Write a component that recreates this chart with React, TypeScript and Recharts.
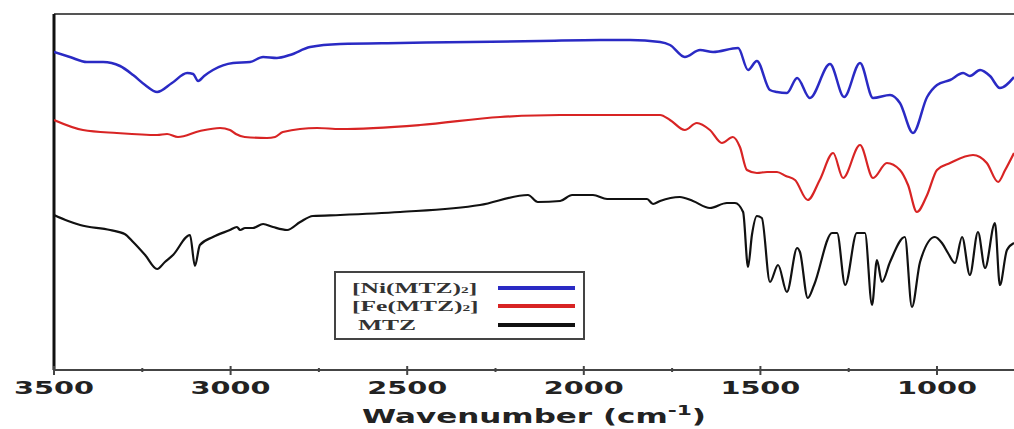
import React from 'react';
import { Legend, Line, LineChart, ReferenceLine, XAxis, YAxis } from 'recharts';

// x ticks (cm-1), minor ones every 250
const majorTicks = [3500, 3000, 2500, 2000, 1500, 1000];
const allTicks = [3500, 3250, 3000, 2750, 2500, 2250, 2000, 1750, 1500, 1250, 1000];
const legendOrder = ['[Ni(MTZ)₂]', '[Fe(MTZ)₂]', 'MTZ'];

// [Ni(MTZ)2] - wavenumber / transmittance (a.u.)
const niWn = [3500, 3455, 3407, 3361, 3313, 3276, 3242, 3208, 3166, 3123, 3106, 3092, 3075, 3050, 2993, 2945, 2908, 2869, 2832, 2775, 2690, 2520, 2322, 2124, 1954, 1869, 1784, 1756, 1714, 1671, 1634, 1563, 1535, 1510, 1473, 1453, 1425, 1396, 1360, 1303, 1263, 1218, 1181, 1133, 1105, 1068, 1028, 1000, 963, 926, 907, 878, 850, 822, 782];
const niT = [318, 313, 308, 308, 304, 295, 285, 278, 287, 297, 296, 289, 294, 300, 307, 308, 313, 312, 315, 323, 326, 327, 328, 329, 330, 330, 328, 325, 313, 320, 318, 322, 300, 309, 280, 278, 277, 292, 272, 306, 273, 307, 272, 275, 267, 237, 273, 285, 290, 297, 294, 300, 294, 282, 293];

// [Fe(MTZ)2]
const feWn = [3500, 3418, 3322, 3208, 3180, 3149, 3087, 3030, 3002, 2985, 2960, 2897, 2874, 2852, 2755, 2690, 2464, 2237, 2067, 1954, 1784, 1756, 1714, 1680, 1643, 1609, 1578, 1558, 1538, 1510, 1481, 1453, 1428, 1402, 1366, 1332, 1294, 1266, 1218, 1181, 1142, 1105, 1082, 1057, 1028, 1000, 963, 898, 859, 827, 807, 782];
const feT = [250, 240, 237, 235, 236, 233, 239, 242, 240, 236, 233, 232, 233, 238, 242, 241, 245, 253, 255, 255, 255, 250, 240, 247, 240, 227, 233, 223, 200, 197, 198, 198, 194, 190, 170, 190, 217, 192, 225, 192, 207, 200, 185, 158, 175, 200, 207, 215, 207, 188, 200, 217];

// MTZ
const mtzWn = [3500, 3460, 3426, 3341, 3300, 3276, 3242, 3208, 3186, 3163, 3115, 3101, 3087, 3050, 3002, 2982, 2973, 2959, 2937, 2908, 2880, 2840, 2803, 2767, 2690, 2520, 2294, 2158, 2130, 2067, 2033, 1974, 1934, 1821, 1804, 1784, 1728, 1691, 1643, 1595, 1572, 1549, 1535, 1524, 1510, 1496, 1473, 1450, 1425, 1396, 1388, 1366, 1348, 1297, 1283, 1260, 1227, 1204, 1184, 1170, 1156, 1133, 1091, 1071, 1048, 1006, 986, 969, 949, 929, 907, 884, 864, 836, 822, 802, 782];
const mtzT = [155, 149, 145, 140, 136, 128, 115, 101, 108, 115, 135, 104, 125, 133, 140, 143, 140, 142, 142, 146, 143, 140, 148, 154, 155, 158, 165, 175, 168, 169, 175, 175, 171, 171, 166, 169, 173, 169, 162, 167, 167, 158, 103, 135, 154, 152, 88, 105, 78, 122, 118, 72, 85, 137, 137, 85, 137, 137, 65, 110, 88, 108, 133, 63, 108, 133, 127, 117, 107, 133, 95, 138, 102, 147, 85, 120, 127];

const zip = (wn: number[], t: number[]) => wn.map((w, i) => ({ wn: w, t: t[i] }));

const WnTick = ({ x, y, payload }: any) => {
  const major = majorTicks.includes(payload.value);
  return (
    <g>
      <line x1={x} x2={x} y1={y - (major ? 4 : 2)} y2={y + (major ? 5 : 2)} stroke="#444" strokeWidth={2} />
      {major && (
        <text x={x} y={y + 24} textAnchor="middle" fontFamily="DejaVu Sans" fontWeight="bold"
          fontSize={18} fill="#222" textLength={80} lengthAdjust="spacingAndGlyphs">
          {payload.value}
        </text>
      )}
    </g>
  );
};

const AxisTitle = ({ viewBox }: any) => {
  const cx = viewBox.x + viewBox.width / 2;
  return (
    <text transform={`translate(${cx} ${viewBox.y + 53}) scale(1.55 1)`} textAnchor="middle"
      fontFamily="DejaVu Sans" fontWeight="bold" fontSize={20} fill="#222">
      Wavenumber (cm
      <tspan dy={-8} fontSize={14}>-1</tspan>
      <tspan dy={8}>)</tspan>
    </text>
  );
};

const rowCenters = [15, 33, 52];

const LegendBox = ({ payload }: any) => {
  const items = [...(payload || [])].sort(
    (a: any, b: any) => legendOrder.indexOf(a.value) - legendOrder.indexOf(b.value),
  );
  return (
    <div style={{
      position: 'relative', width: 251, height: 69, boxSizing: 'border-box', border: '2px solid #444',
      background: '#fff', fontFamily: '"Liberation Serif", serif', fontWeight: 'bold', fontSize: 15, color: '#333',
    }}>
      {items.map((entry: any, i: number) => {
        const [main, rest] = String(entry.value).split('₂');
        return (
          <React.Fragment key={entry.value}>
            <span style={{
              position: 'absolute', left: main.startsWith('[') ? 16 : 22, top: rowCenters[i] - 9, lineHeight: '18px',
              whiteSpace: 'nowrap', transform: 'scaleX(1.7)', transformOrigin: 'left center',
            }}>
              {main}
              {rest !== undefined && <span style={{ fontSize: 9, verticalAlign: 'middle' }}>2</span>}
              {rest}
            </span>
            <span style={{
              position: 'absolute', left: 162, top: rowCenters[i] - 2, width: 77, height: 4, background: entry.color,
            }} />
          </React.Fragment>
        );
      })}
    </div>
  );
};

export default function App() {
  return (
    <div style={{ position: 'absolute', left: 0, top: 0, width: 1014, height: 429, background: '#fff' }}>
      <LineChart width={1014} height={429} margin={{ top: 14, right: 0, left: 54, bottom: 0 }}>
        <XAxis dataKey="wn" type="number" domain={[782, 3500]} reversed allowDataOverflow
          ticks={allTicks} interval={0} tick={<WnTick />} tickLine={false} tickSize={0} tickMargin={0}
          height={59} axisLine={{ stroke: '#444', strokeWidth: 2 }} label={<AxisTitle />} />
        <YAxis type="number" domain={[0, 356]} width={0} hide />
        <ReferenceLine y={356} stroke="#555" strokeWidth={2} />
        <ReferenceLine x={3500} stroke="#111" strokeWidth={3} />
        <Legend verticalAlign="middle" align="center" content={<LegendBox />}
          wrapperStyle={{ left: 334, top: 271, width: 251, height: 69 }} />
        <Line data={zip(niWn, niT)} dataKey="t" name="[Ni(MTZ)₂]" type="monotone" stroke="#2a2ac4"
          strokeWidth={2.5} dot={false} isAnimationActive={false} />
        <Line data={zip(feWn, feT)} dataKey="t" name="[Fe(MTZ)₂]" type="monotone" stroke="#d82424"
          strokeWidth={2.2} dot={false} isAnimationActive={false} />
        <Line data={zip(mtzWn, mtzT)} dataKey="t" name="MTZ" type="monotone" stroke="#111"
          strokeWidth={2.2} dot={false} isAnimationActive={false} />
      </LineChart>
    </div>
  );
}
